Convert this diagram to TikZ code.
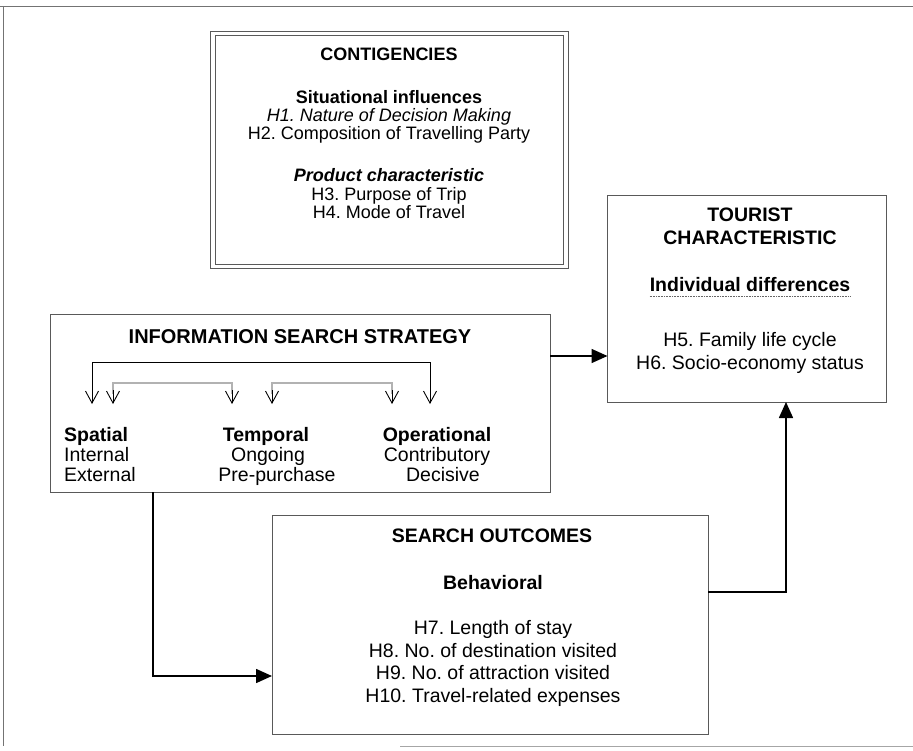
\documentclass[tikz,border=0pt]{standalone}
\usepackage{fontspec}
\setmainfont{Liberation Sans}
\usetikzlibrary{arrows.meta,calc}
\frenchspacing
\begin{document}
\begin{tikzpicture}[x=1pt,y=-1pt,
  box/.style={draw=black!65, line width=0.7pt, inner sep=0pt, outer sep=0pt},
  frame/.style={draw=black!55, line width=0.6pt},
  txt/.style={inner sep=0pt, font=\fontsize{19.5}{22}\selectfont, anchor=base},
  stxt/.style={inner sep=0pt, font=\fontsize{18}{20}\selectfont, anchor=base},
  conn/.style={line width=1.6pt, -{Triangle[length=16pt,width=14pt]}},
  barb/.style={line width=0.9pt, -{Straight Barb[length=12pt,width=13pt,line width=0.9pt]}},
  inbr/.style={draw=black!75, line width=0.5pt, double=black!30, double distance=1.4pt}
]
\useasboundingbox (0,0) rectangle (913,751);
% outer frame
\draw[frame] (0,6) -- (913,6);
\draw[frame] (3,6) -- (3,746);
\draw[draw=black!35, line width=0.5pt] (400,746) -- (913,746);

% boxes
\node[box, minimum width=358pt, minimum height=237pt] (cont) at (389,149.5) {};
\draw[draw=black!65, line width=0.6pt] ($(cont.north west)+(5,4.5)$) rectangle ($(cont.south east)+(-5,-4)$);
\node[box, minimum width=500pt, minimum height=178pt] (iss) at (300,403) {};
\node[box, minimum width=279pt, minimum height=207pt] (tour) at (747,298.5) {};
\node[box, minimum width=436pt, minimum height=219pt] (so) at (490,624.5) {};

% contigencies text
\node[stxt] (c0) at (389,61) {\bfseries CONTIGENCIES};
\node[stxt] (c1) at (389,104) {\bfseries Situational influences};
\node[stxt] (c2) at (389,122) {\itshape H1. Nature of Decision Making};
\node[stxt] (c3) at (389,140) {H2. Composition of Travelling Party};
\node[stxt] (c4) at (389,182) {\bfseries\itshape Product characteristic};
\node[stxt] (c5) at (389,201) {H3. Purpose of Trip};
\node[stxt] (c6) at (389,219) {H4. Mode of Travel};

% tourist text
\node[txt] (t0) at (750,222) {\bfseries TOURIST};
\node[txt] (t1) at (750,245) {\bfseries CHARACTERISTIC};
\node[txt] (t2) at (750,292) {\bfseries Individual differences};
\draw[black!60, line width=0.6pt, densely dotted] ($(t2.base west)+(0,4)$) -- ($(t2.base east)+(0,4)$);
\node[txt] (t3) at (750,346) {H5. Family life cycle};
\node[txt] (t4) at (750,369) {H6. Socio-economy status};

% search outcomes text
\node[txt] (s0) at (492,542) {\bfseries SEARCH OUTCOMES};
\node[txt] (s1) at (493,589) {\bfseries Behavioral};
\node[txt] (s2) at (493,634) {H7. Length of stay};
\node[txt] (s3) at (493,657) {H8. No. of destination visited};
\node[txt] (s4) at (493,679) {H9. No. of attraction visited};
\node[txt] (s5) at (493,702) {H10. Travel-related expenses};

% information search strategy text
\node[txt, font=\fontsize{20}{22}\selectfont] (i0) at (300,344) {\bfseries INFORMATION SEARCH STRATEGY};
\node[txt, anchor=base west] (a0) at (64,441) {\bfseries Spatial};
\node[txt, anchor=base west] (a1) at (64,461) {Internal};
\node[txt, anchor=base west] (a2) at (64,481) {External};
\node[txt] (b0) at (266,441) {\bfseries Temporal};
\node[txt] (b1) at (268,461) {Ongoing};
\node[txt] (b2) at (277,481) {Pre-purchase};
\node[txt] (d0) at (437,441) {\bfseries Operational};
\node[txt] (d1) at (437,461) {Contributory};
\node[txt] (d2) at (443,481) {Decisive};

% brackets
\coordinate (bl) at (92,362);
\coordinate (br) at (430,362);
\draw[line width=0.9pt] (92,389) -- (bl) -- (br) -- (430,389);
\draw[barb] (92,388) -- (92,404);
\draw[barb] (430,388) -- (430,404);
\draw[inbr] (113,394) -- (113,383) -- (232,383) -- (232,394);
\draw[inbr] (272,394) -- (272,383) -- (392,383) -- (392,394);
\draw[barb] (113,390) -- (113,404);
\draw[barb] (232,390) -- (232,404);
\draw[barb] (272,390) -- (272,404);
\draw[barb] (392,390) -- (392,404);

% connectors
\coordinate (k1) at (0,356);
\draw[conn] (iss.east |- k1) -- (tour.west |- k1);
\coordinate (k2) at (153,676);
\draw[conn] (iss.south -| k2) |- (so.west |- k2);
\coordinate (k3) at (786,592);
\draw[conn] (so.east |- k3) -| (tour.south -| k3);
\end{tikzpicture}
\end{document}
